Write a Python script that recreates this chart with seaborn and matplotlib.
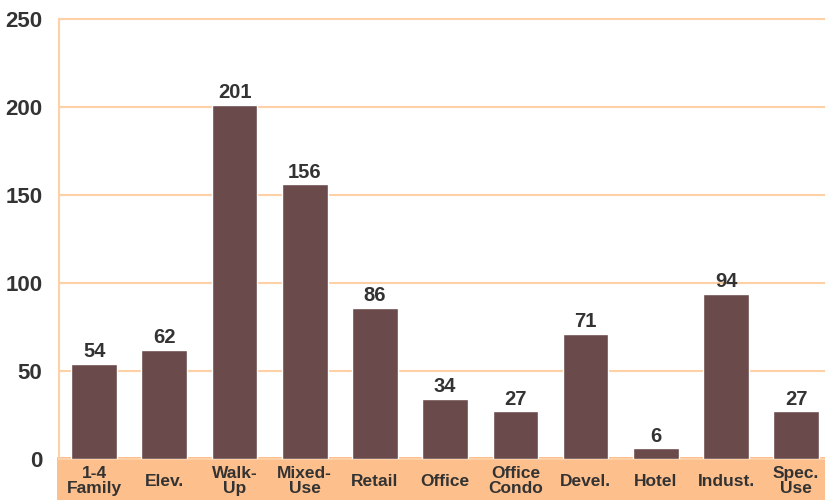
import matplotlib
matplotlib.use("Agg")
import matplotlib.pyplot as plt
import seaborn as sns
from matplotlib.patches import Rectangle

categories = ["1-4\nFamily", "Elev.", "Walk-\nUp", "Mixed-\nUse", "Retail", "Office",
              "Office\nCondo", "Devel.", "Hotel", "Indust.", "Spec.\nUse"]
counts = [54, 62, 201, 156, 86, 34, 27, 71, 6, 94, 27]
y_ticks = [0, 50, 100, 150, 200, 250]

bar_color = "#6b4a4b"
grid_color = "#fdd0a6"
strip_color = "#fdbf8c"
text_color = "#333333"

sns.set_style("white")
plt.rcParams["font.family"] = ["Liberation Sans", "DejaVu Sans"]

fig = plt.figure(figsize=(8.25, 5), dpi=100)
ax = fig.add_axes([0.0715, 0.082, 0.9285, 0.88])
ax.set_zorder(1)

# orange band behind the category labels
fig.patches.append(Rectangle((0.069, 0.0), 0.931, 0.086, transform=fig.transFigure,
                             facecolor=strip_color, edgecolor="none", zorder=0))

sns.barplot(x=categories, y=counts, color=bar_color, width=0.65, saturation=1, ax=ax)
ax.bar_label(ax.containers[0], fontsize=14.5, fontweight="bold", color=text_color, padding=2)

ax.set_xlim(-0.5, 10.41)
ax.set_ylim(0, 250)
ax.set_yticks(y_ticks)
ax.yaxis.grid(True, color=grid_color, linewidth=1.5, clip_on=False)
ax.set_axisbelow(True)
ax.patch.set_alpha(0)

for s in ["top", "right", "bottom"]:
    ax.spines[s].set_visible(False)
ax.spines["left"].set_color(grid_color)
ax.spines["left"].set_linewidth(1.5)

ax.tick_params(axis="y", length=0, pad=12, labelsize=16, labelcolor=text_color)
ax.tick_params(axis="x", length=0, pad=16, labelsize=12.5, labelcolor=text_color)
for lbl in ax.get_xticklabels() + ax.get_yticklabels():
    lbl.set_fontweight("bold")
for lbl in ax.get_xticklabels():
    lbl.set_linespacing(1.0)
    lbl.set_verticalalignment("center")

fig.savefig("out.png", dpi=100)
